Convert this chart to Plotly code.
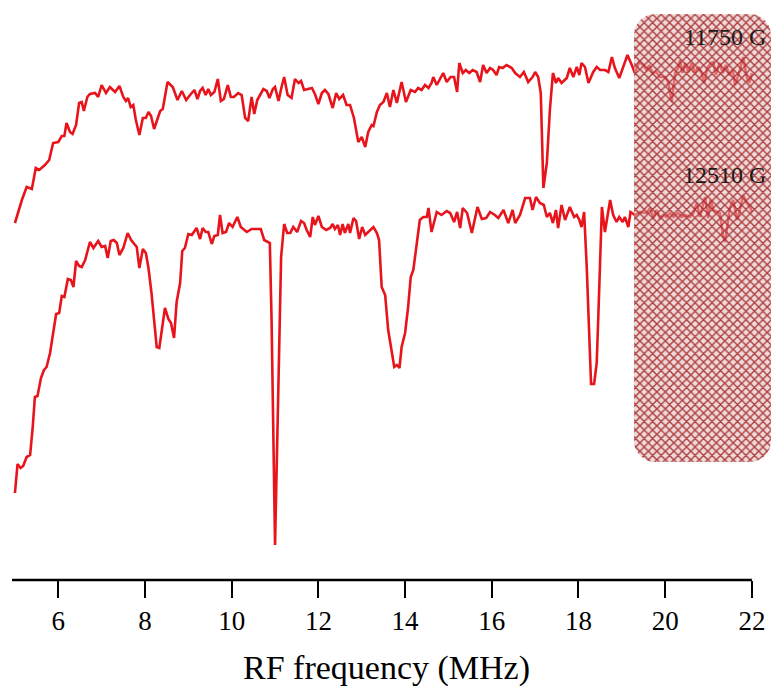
import numpy as np
import plotly.graph_objects as go

# ---- data: upper trace (11750 G) ----
f_11750 = [5.00, 5.16, 5.27, 5.39, 5.48, 5.56, 5.69, 5.79, 5.88, 6.00, 6.08, 6.14, 6.19, 6.27, 6.33, 6.41,
           6.48, 6.54, 6.59, 6.67, 6.73, 6.85, 6.92, 7.00, 7.10, 7.19, 7.31, 7.41, 7.50, 7.56, 7.61, 7.67,
           7.73, 7.79, 7.87, 7.95, 8.02, 8.08, 8.14, 8.21, 8.28, 8.35, 8.41, 8.52, 8.64, 8.75, 8.85, 8.95,
           9.04, 9.14, 9.21, 9.27, 9.33, 9.40, 9.46, 9.52, 9.60, 9.68, 9.75, 9.82, 9.91, 9.98, 10.05, 10.15,
           10.23, 10.31, 10.38, 10.46, 10.52, 10.59, 10.73, 10.81, 10.87, 10.95, 11.00, 11.08, 11.15, 11.21,
           11.29, 11.38, 11.46, 11.54, 11.60, 11.67, 11.85, 11.92, 12.00, 12.08, 12.15, 12.23, 12.33, 12.41,
           12.48, 12.57, 12.65, 12.73, 12.82, 12.92, 13.00, 13.08, 13.15, 13.23, 13.27, 13.35, 13.42, 13.50,
           13.58, 13.65, 13.73, 13.81, 13.92, 14.02, 14.13, 14.23, 14.30, 14.38, 14.46, 14.54, 14.61, 14.65,
           14.73, 14.81, 14.88, 14.96, 15.05, 15.13, 15.20, 15.25, 15.33, 15.40, 15.48, 15.56, 15.65, 15.73,
           15.80, 15.88, 15.96, 16.03, 16.11, 16.17, 16.25, 16.34, 16.46, 16.54, 16.65, 16.74, 16.84, 16.94,
           17.00, 17.07, 17.13, 17.19, 17.27, 17.34, 17.41, 17.48, 17.53, 17.61, 17.73, 17.80, 17.88, 17.96,
           18.02, 18.07, 18.15, 18.23, 18.34, 18.42, 18.50, 18.61, 18.69, 18.77, 18.84, 18.94, 19.03, 19.13,
           19.23, 19.30, 19.40, 19.49, 19.57, 19.63, 19.71, 19.79, 19.88, 20.00, 20.07, 20.15, 20.23, 20.30,
           20.34, 20.40, 20.46, 20.53, 20.61, 20.69, 20.76, 20.84, 20.90, 20.97, 21.05, 21.11, 21.17, 21.25,
           21.33, 21.40, 21.48, 21.56, 21.61, 21.71, 21.80, 21.88, 21.94, 22.00]
s_11750 = [3.57, 3.80, 3.93, 3.91, 4.12, 4.10, 4.15, 4.20, 4.37, 4.38, 4.44, 4.44, 4.57, 4.48, 4.46, 4.55,
           4.77, 4.78, 4.69, 4.83, 4.86, 4.87, 4.83, 4.95, 4.87, 4.93, 4.88, 4.94, 4.83, 4.79, 4.82, 4.73,
           4.75, 4.60, 4.45, 4.62, 4.62, 4.68, 4.64, 4.51, 4.60, 4.69, 4.71, 4.98, 4.93, 4.80, 4.89, 4.80,
           4.85, 4.90, 4.81, 4.89, 4.92, 4.85, 4.91, 4.85, 4.88, 5.01, 4.79, 4.81, 4.95, 4.83, 4.83, 4.87,
           4.85, 4.62, 4.59, 4.83, 4.66, 4.80, 4.91, 4.89, 4.82, 4.91, 4.93, 4.79, 4.93, 5.03,
           4.85, 4.82, 5.01, 4.97, 4.99, 4.90, 4.92, 4.86, 4.76, 4.87, 4.90, 4.86, 4.72, 4.87,
           4.81, 4.85, 4.75, 4.75, 4.62, 4.38, 4.43, 4.33, 4.48, 4.55, 4.54, 4.68, 4.75, 4.78,
           4.87, 4.73, 4.90, 4.77, 4.98, 4.78, 4.90, 4.88, 4.92, 4.90, 4.95, 4.92, 4.97, 5.03,
           4.95, 5.02, 5.07, 4.98, 5.03, 5.03, 4.88, 5.17, 5.07, 5.10, 5.07, 5.10, 5.08, 4.98,
           5.15, 5.07, 5.12, 5.10, 5.05, 5.13, 5.12, 5.15, 5.12, 5.07, 5.03, 5.08, 4.98, 5.03,
           5.08, 5.03, 4.87, 3.92, 4.17, 4.70, 5.07, 4.97, 5.02, 4.97, 5.02, 5.12, 5.03, 5.13,
           5.05, 5.17, 5.13, 4.97, 5.08, 5.13, 5.10, 5.10, 5.08, 5.23, 5.12, 5.02, 5.13, 5.25,
           5.15, 5.07, 5.18, 5.15, 5.10, 5.15, 5.07, 5.08, 5.03, 5.03, 4.98, 4.78, 5.07, 5.12,
           5.20, 5.07, 5.17, 5.08, 5.17, 5.07, 5.13, 5.07, 4.97, 5.12, 5.17, 5.18, 5.05, 5.17,
           5.07, 5.15, 5.05, 5.10, 4.95, 5.08, 5.23, 5.03, 4.97, 5.07]

# ---- data: lower trace (12510 G) ----
f_12510 = [5.00, 5.06, 5.13, 5.19, 5.27, 5.35, 5.41, 5.46, 5.52, 5.60, 5.67, 5.73, 5.81, 5.88, 5.95, 6.02,
           6.08, 6.14, 6.22, 6.29, 6.35, 6.41, 6.48, 6.54, 6.62, 6.73, 6.81, 6.92, 7.00, 7.08, 7.14, 7.21,
           7.28, 7.35, 7.41, 7.50, 7.60, 7.68, 7.73, 7.81, 7.87, 7.95, 8.02, 8.08, 8.15, 8.21, 8.27, 8.33,
           8.39, 8.46, 8.54, 8.60, 8.67, 8.73, 8.81, 8.86, 8.92, 9.00, 9.08, 9.19, 9.27, 9.33, 9.40, 9.46,
           9.54, 9.60, 9.68, 9.73, 9.79, 9.87, 9.94, 10.02, 10.13, 10.21, 10.35, 10.46, 10.58, 10.67, 10.75,
           10.84, 10.88, 10.92, 10.96, 11.00, 11.04, 11.09, 11.14, 11.21, 11.28, 11.35, 11.42, 11.51, 11.60,
           11.67, 11.73, 11.81, 11.87, 11.92, 12.00, 12.08, 12.18, 12.27, 12.33, 12.38, 12.45, 12.50, 12.56,
           12.61, 12.69, 12.73, 12.81, 12.87, 12.94, 13.01, 13.08, 13.15, 13.27, 13.35, 13.40, 13.46, 13.54,
           13.61, 13.69, 13.75, 13.81, 13.87, 13.92, 14.00, 14.07, 14.13, 14.19, 14.27, 14.34, 14.42, 14.50,
           14.54, 14.61, 14.73, 14.84, 14.96, 15.04, 15.13, 15.20, 15.27, 15.33, 15.43, 15.54, 15.67, 15.77,
           15.87, 15.96, 16.07, 16.15, 16.27, 16.38, 16.48, 16.54, 16.65, 16.77, 16.88, 16.94, 17.02, 17.11,
           17.20, 17.27, 17.34, 17.41, 17.48, 17.53, 17.61, 17.69, 17.80, 17.90, 17.96, 18.02, 18.07, 18.13,
           18.19, 18.25, 18.29, 18.36, 18.42, 18.46, 18.50, 18.54, 18.61, 18.73, 18.80, 18.88, 18.94, 19.02,
           19.07, 19.15, 19.20, 19.30, 19.42, 19.57, 19.65, 19.73, 19.80, 19.88, 19.96, 20.03, 20.11, 20.19,
           20.30, 20.38, 20.46, 20.57, 20.65, 20.73, 20.80, 20.86, 20.92, 20.99, 21.05, 21.11, 21.19, 21.26,
           21.33, 21.38, 21.43, 21.49, 21.57, 21.66, 21.74, 21.80, 21.88, 21.96, 22.00]
s_12510 = [0.87, 1.16, 1.12, 1.14, 1.23, 1.25, 1.53, 1.83, 1.84, 2.02, 2.10, 2.13, 2.27, 2.48, 2.66, 2.67,
           2.84, 2.83, 3.01, 3.00, 2.93, 3.19, 3.14, 3.13, 3.20, 3.38, 3.32, 3.39, 3.33, 3.34, 3.22, 3.39,
           3.40, 3.37, 3.25, 3.32, 3.47, 3.40, 3.37, 3.33, 3.12, 3.31, 3.27, 3.12, 2.87, 2.57, 2.33, 2.32,
           2.53, 2.72, 2.61, 2.57, 2.42, 2.78, 2.97, 3.29, 3.32, 3.46, 3.45, 3.52, 3.41, 3.52, 3.48, 3.48,
           3.36, 3.44, 3.45, 3.65, 3.47, 3.48, 3.57, 3.53, 3.63, 3.53, 3.48, 3.51, 3.51, 3.51, 3.40,
           3.38, 3.37, 2.60, 1.40, 0.35, 1.17, 2.27, 3.23, 3.56, 3.47, 3.47, 3.53, 3.48, 3.59,
           3.57, 3.50, 3.43, 3.63, 3.55, 3.64, 3.53, 3.50, 3.52, 3.56, 3.51, 3.55, 3.45, 3.56,
           3.47, 3.56, 3.47, 3.62, 3.59, 3.41, 3.53, 3.45, 3.48, 3.53, 3.47, 3.40, 2.93, 2.85,
           2.50, 2.30, 2.13, 2.15, 2.12, 2.33, 2.47, 2.73, 3.03, 3.10, 3.40, 3.60, 3.63, 3.63,
           3.72, 3.48, 3.68, 3.65, 3.69, 3.67, 3.58, 3.68, 3.52, 3.72, 3.67, 3.47, 3.73, 3.61,
           3.62, 3.68, 3.65, 3.62, 3.70, 3.57, 3.70, 3.57, 3.65, 3.82, 3.82, 3.70, 3.83, 3.77,
           3.75, 3.63, 3.67, 3.57, 3.70, 3.52, 3.75, 3.60, 3.73, 3.63, 3.65, 3.60, 3.53, 3.68,
           3.13, 2.33, 1.96, 1.96, 2.17, 2.67, 3.33, 3.73, 3.48, 3.80, 3.65, 3.58, 3.63, 3.58,
           3.63, 3.53, 3.68, 3.65, 3.68, 3.67, 3.72, 3.62, 3.70, 3.62, 3.65, 3.63, 3.67, 3.63,
           3.67, 3.63, 3.65, 3.63, 3.67, 3.77, 3.63, 3.73, 3.83, 3.62, 3.80, 3.70, 3.68, 3.67,
           3.45, 3.38, 3.53, 3.72, 3.80, 3.60, 3.73, 3.85, 3.77, 3.73, 3.68]

tick_vals = [6, 8, 10, 12, 14, 16, 18, 20, 22]
trace_labels = ["11750 G", "12510 G"]
label_pos = [(22.37, 5.43), (22.37, 4.05)]
region_x = (19.28, 22.44)   # hatched region, MHz
region_y = (1.18, 5.66)     # hatched region, signal units

X_RANGE = [4.932, 22.464]
Y_RANGE = [0.0, 5.70]
W, H = 776, 692
ML, MR, MT, MB = 12, 4, 10, 112

# rounded rectangle outline for the hatched region
px_per_x = (W - ML - MR) / (X_RANGE[1] - X_RANGE[0])
px_per_y = (H - MT - MB) / (Y_RANGE[1] - Y_RANGE[0])
r_px = 21
rx, ry = r_px / px_per_x, r_px / px_per_y
x0, x1 = region_x
y0, y1 = region_y
corners = [(x1 - rx, y1 - ry, 0, 90), (x0 + rx, y1 - ry, 90, 180),
           (x0 + rx, y0 + ry, 180, 270), (x1 - rx, y0 + ry, 270, 360)]
rxs, rys = [], []
for cx, cy, a0, a1 in corners:
    t = np.radians(np.linspace(a0, a1, 12))
    rxs += list(cx + rx * np.cos(t))
    rys += list(cy + ry * np.sin(t))
rxs.append(rxs[0]); rys.append(rys[0])

RED = "#e8141c"
fig = go.Figure()
fig.add_trace(go.Scatter(x=f_11750, y=s_11750, mode="lines",
                         line=dict(color=RED, width=2.6), name=trace_labels[0]))
fig.add_trace(go.Scatter(x=f_12510, y=s_12510, mode="lines",
                         line=dict(color=RED, width=2.6), name=trace_labels[1]))
fig.add_trace(go.Scatter(x=rxs, y=rys, mode="lines", fill="toself",
                         line=dict(width=0, color="rgba(0,0,0,0)"),
                         fillcolor="rgba(200,120,120,0.35)",
                         fillpattern=dict(shape="x", size=6, solidity=0.42,
                                          fgcolor="rgba(160,35,35,0.85)",
                                          bgcolor="rgba(228,185,185,0.55)",
                                          fillmode="replace"),
                         hoverinfo="skip", showlegend=False))

for txt, (lx, ly) in zip(trace_labels, label_pos):
    fig.add_annotation(x=lx, y=ly, xref="x", yref="y", text=txt, showarrow=False,
                       xanchor="right", yanchor="middle",
                       font=dict(family="Liberation Serif", size=24, color="#1a1a1a"))

fig.add_annotation(x=13.58, y=-0.154, xref="x", yref="paper", text="RF frequency (MHz)",
                   showarrow=False, xanchor="center", yanchor="middle",
                   font=dict(family="Liberation Serif", size=34, color="black"))

# x axis baseline (ends at 22)
fig.add_shape(type="line", xref="x", yref="paper", x0=X_RANGE[0], x1=22, y0=0, y1=0,
              line=dict(color="black", width=2.5))

fig.update_layout(
    width=W, height=H, margin=dict(l=ML, r=MR, t=MT, b=MB),
    plot_bgcolor="white", paper_bgcolor="white", showlegend=False,
    xaxis=dict(range=X_RANGE, showgrid=False, zeroline=False, showline=False,
               ticks="outside", ticklen=17, tickwidth=2, tickcolor="black",
               tickvals=tick_vals, ticktext=[str(v) for v in tick_vals],
               tickfont=dict(family="Liberation Serif", size=27, color="black")),
    yaxis=dict(range=Y_RANGE, visible=False),
)

fig.write_html("out.html")
